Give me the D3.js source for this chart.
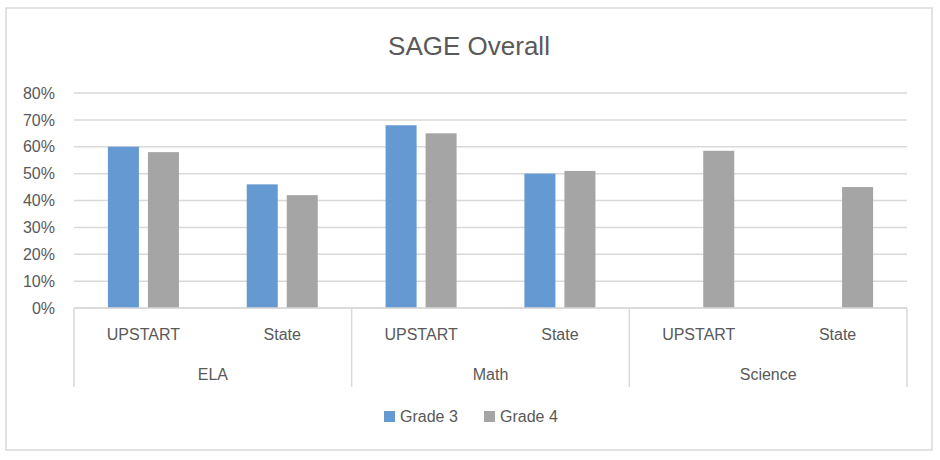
<!DOCTYPE html>
<html><head><meta charset="utf-8">
<script src="https://cdn.jsdelivr.net/npm/d3@7"></script>
<style>body{margin:0;background:#fff}svg{display:block}text{font-family:"Liberation Sans",Arial,sans-serif;fill:#595959}</style>
</head><body><svg id="c" width="940" height="460"></svg>
<script>
const groups = ["ELA", "Math", "Science"];
const subcats = ["UPSTART", "State"];
const seriesNames = ["Grade 3", "Grade 4"];
const grade3 = [0.60, 0.46, 0.68, 0.50, null, null];
const grade4 = [0.58, 0.42, 0.65, 0.51, 0.585, 0.45];
const yTicks = [0, 0.1, 0.2, 0.3, 0.4, 0.5, 0.6, 0.7, 0.8];
const colors = ["#6499D2", "#A5A5A5"];

const svg = d3.select("#c");
const L = 74, R = 907, T = 93, B = 308;
svg.append("rect").attr("x",6).attr("y",8).attr("width",926).attr("height",442)
  .attr("fill","#fff").attr("stroke","#D9D9D9").attr("stroke-width",1.5);

svg.append("text").attr("x",469).attr("y",55).attr("text-anchor","middle")
  .attr("font-size",26).text("SAGE Overall");

const y = d3.scaleLinear().domain([0,0.8]).range([B,T]);
const keys = [];
groups.forEach(g=>subcats.forEach(s=>keys.push(g+"|"+s)));
const x0 = d3.scaleBand().domain(keys).range([L,R]).padding(0);
const xg = d3.scaleBand().domain(groups).range([L,R]).padding(0);
const bw = x0.bandwidth();
const barW = bw*31/138.8, gap = bw*9/138.8;
const x1 = d3.scaleOrdinal().domain(seriesNames).range([bw/2 - gap/2 - barW, bw/2 + gap/2]);

// gridlines
svg.append("g").selectAll("line").data(yTicks).join("line")
  .attr("x1",L).attr("x2",R).attr("y1",d=>y(d)).attr("y2",d=>y(d))
  .attr("stroke","#D9D9D9").attr("stroke-width",1.5);

// y axis labels
const yAxis = d3.axisLeft(y).tickValues(yTicks).tickFormat(d3.format(".0%")).tickSize(0).tickPadding(19);
const ga = svg.append("g").attr("transform",`translate(${L},0)`).call(yAxis);
ga.select(".domain").remove();
ga.selectAll("text").attr("font-size",16).attr("fill","#595959")
  .attr("font-family","Liberation Sans, Arial, sans-serif");

// bars
const data = [];
keys.forEach((k,i)=>{
  [grade3, grade4].forEach((arr,j)=>{
    if(arr[i]!=null) data.push({k, s:seriesNames[j], v:arr[i], c:colors[j]});
  });
});
svg.append("g").selectAll("rect").data(data).join("rect")
  .attr("x",d=>x0(d.k)+x1(d.s)).attr("width",barW)
  .attr("y",d=>y(d.v)).attr("height",d=>B-y(d.v))
  .attr("fill",d=>d.c);

// category axis
const ca = svg.append("g").attr("stroke","#D9D9D9").attr("stroke-width",1.5);
ca.append("line").attr("x1",L).attr("x2",R).attr("y1",B).attr("y2",B);
const seps = groups.map(g=>xg(g)).concat([R]);
ca.selectAll("line.sep").data(seps).join("line").attr("class","sep")
  .attr("x1",d=>d).attr("x2",d=>d).attr("y1",B).attr("y2",387);

svg.append("g").selectAll("text").data(keys).join("text")
  .attr("x",d=>x0(d)+bw/2).attr("y",340).attr("text-anchor","middle")
  .attr("font-size",16).text(d=>d.split("|")[1]);
svg.append("g").selectAll("text").data(groups).join("text")
  .attr("x",d=>xg(d)+xg.bandwidth()/2).attr("y",380).attr("text-anchor","middle")
  .attr("font-size",16).text(d=>d);

// legend
const leg = svg.append("g");
const legX = [384, 484];
seriesNames.forEach((s,i)=>{
  leg.append("rect").attr("x",legX[i]).attr("y",411).attr("width",11).attr("height",11).attr("fill",colors[i]);
  leg.append("text").attr("x",legX[i]+16).attr("y",422).attr("font-size",16).text(s);
});
</script></body></html>
